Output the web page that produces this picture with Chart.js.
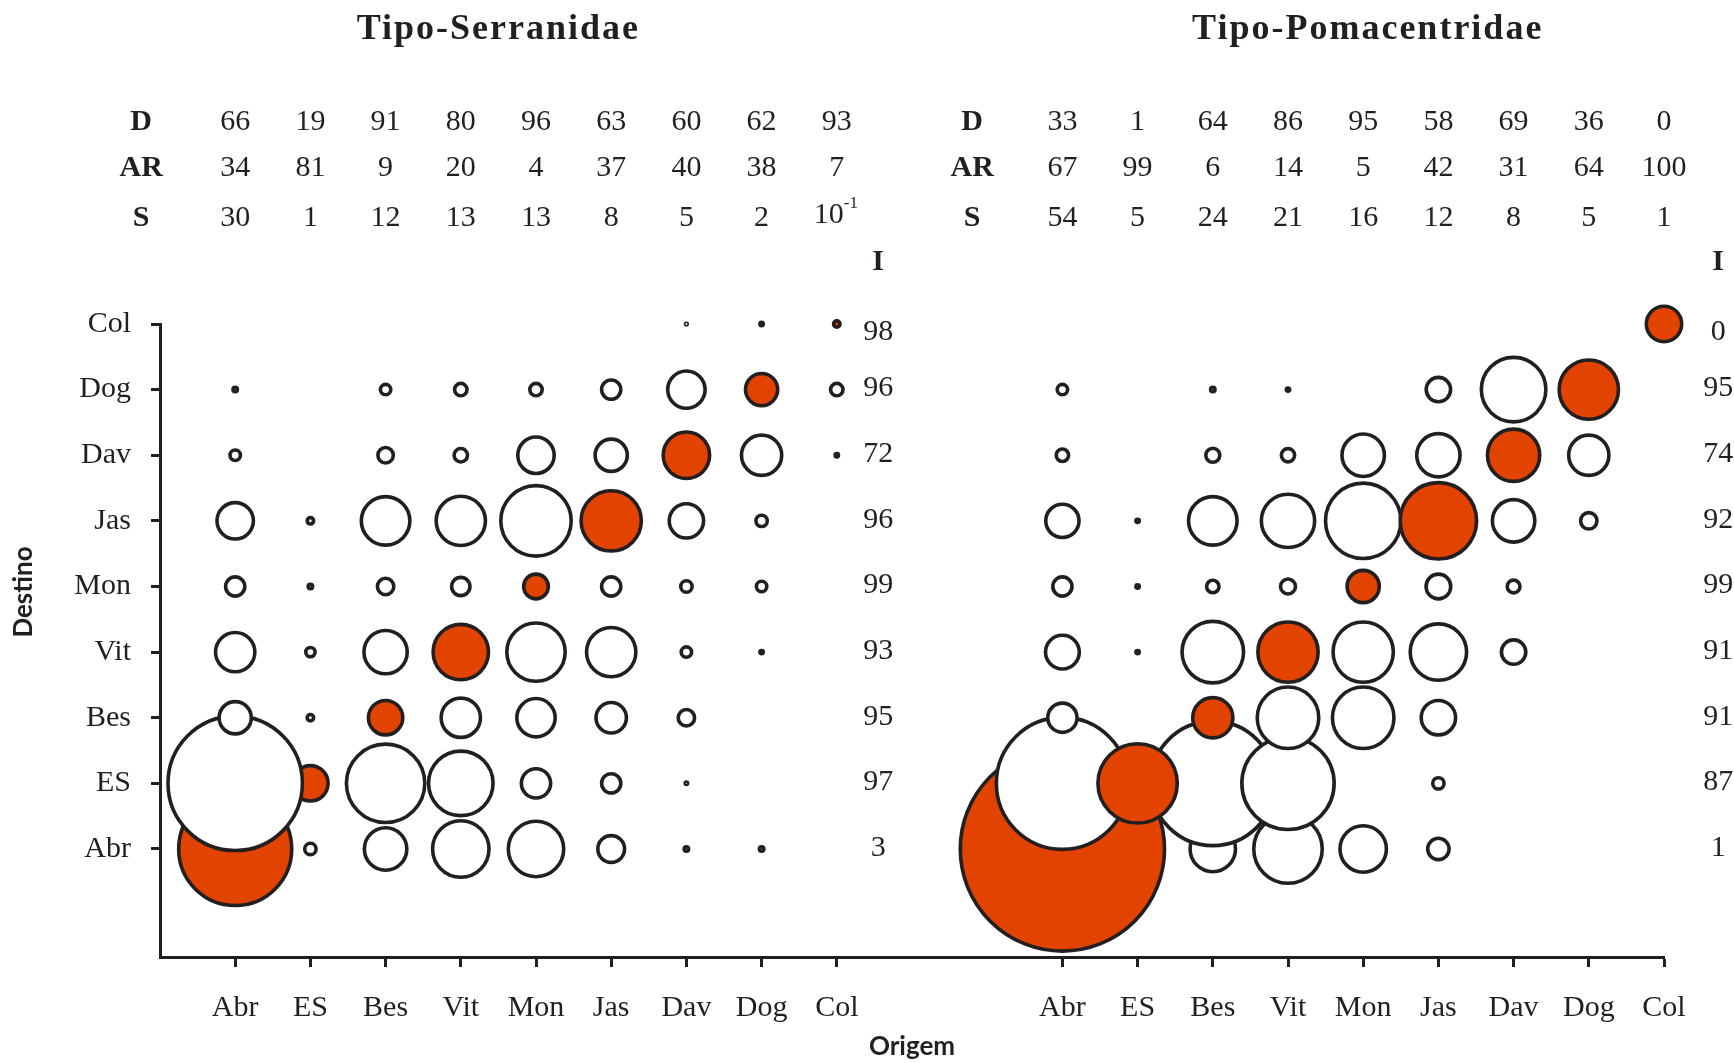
<!DOCTYPE html>
<html>
<head>
<meta charset="utf-8">
<script src="https://cdn.jsdelivr.net/npm/chart.js@4.4.1/dist/chart.umd.min.js"></script>
<style>
  html, body { margin: 0; padding: 0; background: #fff; }
  #wrap { width: 1734px; height: 1063px; }
</style>
</head>
<body>
<div id="wrap"><canvas id="c" width="1734" height="1063"></canvas></div>
<script>
const sites = ['Abr', 'ES', 'Bes', 'Vit', 'Mon', 'Jas', 'Dav', 'Dog', 'Col'];

// Tipo-Serranidae (colunas = origem)
const serrD  = [66, 19, 91, 80, 96, 63, 60, 62, 93];
const serrAR = [34, 81, 9, 20, 4, 37, 40, 38, 7];
const serrS  = [30, 1, 12, 13, 13, 8, 5, 2, 0.1];
const serrI  = [3, 97, 95, 93, 99, 96, 72, 96, 98];   // por destino, Abr..Col
// linhas = destino Abr..Col, colunas = origem Abr..Col
const serrFlux = [
  [34,   0.56, 5.3,  9,    8.7,  2.3,  0.16, 0.16, 0],
  [47.6, 3.8,  16.8, 11.6, 2.7,  1.3,  0.09, 0,    0],
  [3.2,  0.25, 3.6,  4.6,  4.4,  2.9,  1.0,  0,    0],
  [4.6,  0.42, 5.5,  8.7,  9.6,  7.0,  0.49, 0.12, 0],
  [1.3,  0.16, 1.0,  1.2,  2.0,  1.3,  0.56, 0.49, 0],
  [4.0,  0.25, 6.8,  7.0,  13.7, 10.2, 3.6,  0.56, 0],
  [0.49, 0,    0.9,  0.72, 4.0,  3.2,  6.25, 4.8,  0.12],
  [0.16, 0,    0.49, 0.64, 0.64, 1.3,  4.2,  3.2,  0.64],
  [0,    0,    0,    0,    0,    0,    0.06, 0.12, 0.25]
];

// Tipo-Pomacentridae
const pomD  = [33, 1, 64, 86, 95, 58, 69, 36, 0];
const pomAR = [67, 99, 6, 14, 5, 42, 31, 64, 100];
const pomS  = [54, 5, 24, 21, 16, 12, 8, 5, 1];
const pomI  = [1, 87, 91, 91, 99, 92, 74, 95, 0];
const pomFlux = [
  [108,  0.12, 6.0,  13,   6.25, 1.56, 0,    0,    0],
  [46,   17.2, 41,   23,   0,    0.56, 0,    0,    0],
  [2.7,  0,    4.8,  10.6, 10.6, 3.6,  0,    0,    0],
  [3.5,  0.12, 10.6, 10.2, 10.2, 9.0,  1.96, 0,    0],
  [1.3,  0.12, 0.64, 0.86, 3.2,  2.0,  0.67, 0,    0],
  [3.4,  0.12, 6.8,  8.1,  15.6, 16,   5.3,  1.0,  0],
  [0.64, 0,    0.77, 0.71, 5.3,  5.5,  7.8,  4.8,  0],
  [0.49, 0,    0.16, 0.12, 0,    1.96, 11.6, 9.9,  0],
  [0,    0,    0,    0,    0,    0,    0,    0,    3.8]
];

const ink = '#231f20';
const orange = '#e24400';
const serif = '"Liberation Serif", "Times New Roman", serif';
const stroke = 3.6;

function rowDatasets(flux, xStart, diagOnTop) {
  return flux.map((row, r) => {
    const pts = [];
    row.forEach((v, c) => {
      // a borda externa do circulo corresponde ao valor
      if (v > 0) pts.push({ x: xStart + c, y: r, r: Math.max(Math.sqrt(v) * 10 - stroke / 2, 0.8), diag: r === c });
    });
    pts.sort((a, b) => (a.diag - b.diag) * (diagOnTop ? 1 : -1));
    return {
      data: pts,
      order: 20 - r,
      clip: false,
      borderColor: ink,
      borderWidth: stroke,
      backgroundColor: ctx => (ctx.raw && ctx.raw.diag ? orange : '#ffffff')
    };
  });
}

const xTicks = [1, 2, 3, 4, 5, 6, 7, 8, 9, 12, 13, 14, 15, 16, 17, 18, 19, 20];

const textPlugin = {
  id: 'textPlugin',
  afterDraw(chart) {
    const ctx = chart.ctx;
    const xs = chart.scales.x, ys = chart.scales.y;
    ctx.save();
    ctx.fillStyle = ink;
    ctx.textBaseline = 'middle';
    ctx.textAlign = 'center';

    // titulos
    ctx.font = 'bold 36px ' + serif;
    ctx.letterSpacing = '2px';
    ctx.fillText('Tipo-Serranidae', xs.getPixelForValue(4.5), 30);
    ctx.fillText('Tipo-Pomacentridae', xs.getPixelForValue(16.06), 30);
    ctx.letterSpacing = '0px';

    const rowsY = { D: 122, AR: 168, S: 218 };
    const panels = [
      { x0: 1, lab: -0.25, iX: 9.55, D: serrD, AR: serrAR, S: serrS, I: serrI },
      { x0: 12, lab: 10.8, iX: 20.72, D: pomD, AR: pomAR, S: pomS, I: pomI }
    ];
    panels.forEach(p => {
      ctx.font = 'bold 30px ' + serif;
      ['D', 'AR', 'S'].forEach(k => ctx.fillText(k, xs.getPixelForValue(p.lab), rowsY[k]));
      ctx.fillText('I', xs.getPixelForValue(p.iX), 262);
      ctx.font = '30px ' + serif;
      ['D', 'AR', 'S'].forEach(k => {
        p[k].forEach((v, i) => {
          const px = xs.getPixelForValue(p.x0 + i);
          if (v === 0.1) {
            ctx.fillText('10', px - 8, rowsY[k] - 3);
            ctx.font = '17px ' + serif;
            ctx.textAlign = 'left';
            ctx.fillText('-1', px + 7, rowsY[k] - 14);
            ctx.textAlign = 'center';
            ctx.font = '30px ' + serif;
          } else {
            ctx.fillText(String(v), px, rowsY[k]);
          }
        });
      });
      p.I.forEach((v, r) => {
        const py = ys.getPixelForValue(r) + (r === 8 ? 8 : -1);
        ctx.fillText(String(v), xs.getPixelForValue(p.iX), py);
      });
    });

    // titulos dos eixos
    ctx.font = 'bold 26px Lato, "Open Sans", sans-serif';
    ctx.fillText('Origem', (chart.chartArea.left + chart.chartArea.right) / 2, 1047);
    ctx.translate(24, 592);
    ctx.rotate(-Math.PI / 2);
    ctx.fillText('Destino', 0, 0);
    ctx.restore();
  }
};

new Chart(document.getElementById('c'), {
  type: 'bubble',
  data: {
    datasets: [...rowDatasets(serrFlux, 1, false), ...rowDatasets(pomFlux, 12, true)]
  },
  options: {
    responsive: false,
    animation: false,
    events: [],
    layout: { autoPadding: false, padding: { left: 0, right: 70, top: 324, bottom: 0 } },
    plugins: { legend: { display: false }, tooltip: { enabled: false } },
    scales: {
      x: {
        type: 'linear',
        min: 0,
        max: 20,
        afterBuildTicks: s => { s.ticks = xTicks.map(v => ({ value: v })); },
        afterFit: s => { s.height = 106; s.paddingLeft = 0; s.paddingRight = 0; },
        ticks: {
          autoSkip: false,
          maxRotation: 0,
          callback: v => sites[v <= 9 ? v - 1 : v - 12],
          font: { family: serif, size: 30 },
          color: ink,
          padding: 23
        },
        grid: { drawOnChartArea: false, drawTicks: true, tickLength: 10, tickWidth: 3, tickColor: ink },
        border: { display: true, color: ink, width: 3 }
      },
      y: {
        type: 'linear',
        min: -1.646,
        max: 8,
        afterBuildTicks: s => { s.ticks = sites.map((_, i) => ({ value: i })); },
        afterFit: s => { s.width = 160; s.paddingTop = 0; s.paddingBottom = 0; },
        ticks: {
          autoSkip: false,
          callback: v => sites[v],
          font: { family: serif, size: 30 },
          color: ink,
          padding: 20
        },
        grid: { drawOnChartArea: false, drawTicks: true, tickLength: 9, tickWidth: 3, tickColor: ink },
        border: { display: true, color: ink, width: 3 }
      }
    }
  },
  plugins: [textPlugin]
});
</script>
</body>
</html>
